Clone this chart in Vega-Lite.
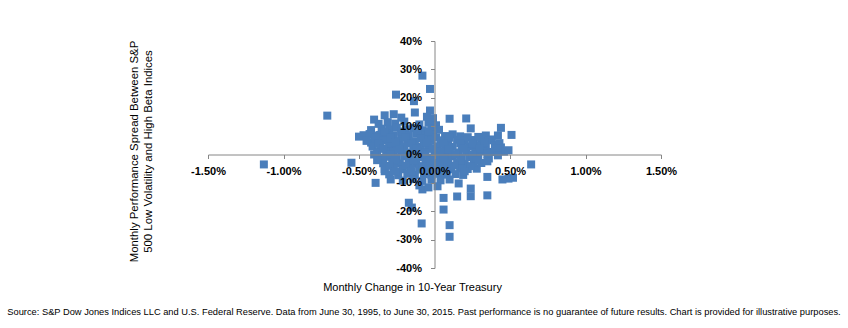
{
  "$schema": "https://vega.github.io/schema/vega-lite/v6.json",
  "width": 453,
  "height": 227,
  "autosize": {"type": "none"},
  "padding": {"left": 208, "top": 41, "right": 187, "bottom": 60},
  "background": "#ffffff",
  "title": {
    "text": "Source: S&P Dow Jones Indices LLC and U.S. Federal Reserve. Data from June 30, 1995, to June 30, 2015. Past performance is no guarantee of future results. Chart is provided for illustrative purposes.",
    "orient": "bottom",
    "anchor": "middle",
    "frame": "group",
    "font": "Liberation Sans",
    "fontSize": 9.3,
    "fontWeight": "normal",
    "color": "#000000",
    "offset": 16,
    "dx": -10.5
  },
  "data": {
    "values": [
      {"x": -1.13, "y": -3.5}, {"x": -0.71, "y": 13.7}, {"x": -0.55, "y": -2.9}, {"x": -0.08, "y": 27.8},
      {"x": -0.03, "y": 23.1}, {"x": -0.255, "y": 21.1}, {"x": -0.136, "y": 18.8}, {"x": -0.40, "y": 12.3},
      {"x": -0.13, "y": 14.8}, {"x": -0.03, "y": 15.5}, {"x": 0.10, "y": 12.6}, {"x": 0.21, "y": 12.7},
      {"x": 0.24, "y": 9.2}, {"x": 0.34, "y": 6.7}, {"x": 0.44, "y": 9.4}, {"x": 0.42, "y": 6.7},
      {"x": 0.51, "y": 6.9}, {"x": 0.44, "y": 2.5}, {"x": 0.34, "y": 3.0}, {"x": 0.36, "y": -1.4},
      {"x": 0.64, "y": -3.5}, {"x": 0.35, "y": -2.4}, {"x": 0.35, "y": -7.9}, {"x": 0.49, "y": -8.5},
      {"x": 0.52, "y": -8.2}, {"x": 0.45, "y": -8.8}, {"x": 0.28, "y": -5.0}, {"x": 0.16, "y": -10.2},
      {"x": 0.24, "y": -12.0}, {"x": 0.24, "y": -14.7}, {"x": 0.15, "y": -14.8}, {"x": 0.06, "y": -15.3},
      {"x": 0.35, "y": -14.4}, {"x": 0.06, "y": -19.4}, {"x": 0.10, "y": -24.9}, {"x": 0.10, "y": -29.0},
      {"x": -0.39, "y": -10.0}, {"x": -0.33, "y": -5.9}, {"x": -0.08, "y": -12.3}, {"x": -0.04, "y": -11.6},
      {"x": -0.17, "y": -17.0}, {"x": -0.15, "y": -18.7}, {"x": -0.085, "y": -24.3}, {"x": -0.50, "y": 6.3},
      {"x": -0.39, "y": 6.7}, {"x": -0.42, "y": 4.2},
      {"x": -0.33, "y": 13.8}, {"x": -0.27, "y": 14.2}, {"x": -0.22, "y": 13.0}, {"x": -0.05, "y": 13.3}, {"x": -0.01, "y": 12.8},
      {"x": -0.37, "y": 10.8}, {"x": -0.31, "y": 11.4}, {"x": -0.26, "y": 10.9}, {"x": -0.20, "y": 11.6}, {"x": -0.10, "y": 10.6}, {"x": -0.04, "y": 11.2}, {"x": 0.01, "y": 10.3},
      {"x": -0.42, "y": 8.6}, {"x": -0.35, "y": 9.1}, {"x": -0.30, "y": 8.8}, {"x": -0.25, "y": 9.4}, {"x": -0.19, "y": 8.9}, {"x": -0.14, "y": 9.3}, {"x": -0.08, "y": 8.5}, {"x": -0.02, "y": 9.0}, {"x": 0.03, "y": 8.7},
      {"x": -0.47, "y": 6.8}, {"x": -0.43, "y": 7.2}, {"x": -0.36, "y": 6.9}, {"x": -0.32, "y": 7.4}, {"x": -0.27, "y": 6.6}, {"x": -0.22, "y": 7.1}, {"x": -0.17, "y": 6.8}, {"x": -0.12, "y": 7.3}, {"x": -0.06, "y": 6.7}, {"x": -0.01, "y": 7.0}, {"x": 0.07, "y": 6.5}, {"x": 0.12, "y": 7.1}, {"x": 0.17, "y": 6.4}, {"x": 0.38, "y": 5.3},
      {"x": -0.45, "y": 4.8}, {"x": -0.40, "y": 5.2}, {"x": -0.34, "y": 4.9}, {"x": -0.29, "y": 5.3}, {"x": -0.23, "y": 4.7}, {"x": -0.18, "y": 5.1}, {"x": -0.13, "y": 4.6}, {"x": -0.07, "y": 5.2}, {"x": -0.02, "y": 4.8}, {"x": 0.04, "y": 5.0}, {"x": 0.09, "y": 4.6}, {"x": 0.15, "y": 5.2}, {"x": 0.20, "y": 4.9}, {"x": 0.26, "y": 5.1}, {"x": 0.31, "y": 4.7}, {"x": 0.36, "y": 5.0},
      {"x": -0.41, "y": 2.8}, {"x": -0.36, "y": 3.2}, {"x": -0.30, "y": 2.9}, {"x": -0.25, "y": 3.3}, {"x": -0.20, "y": 2.7}, {"x": -0.14, "y": 3.1}, {"x": -0.09, "y": 2.8}, {"x": -0.04, "y": 3.2}, {"x": 0.02, "y": 2.9}, {"x": 0.07, "y": 3.3}, {"x": 0.12, "y": 2.7}, {"x": 0.18, "y": 3.1}, {"x": 0.23, "y": 2.8}, {"x": 0.28, "y": 3.2}, {"x": 0.40, "y": 3.3},
      {"x": -0.38, "y": 0.8}, {"x": -0.32, "y": 1.2}, {"x": -0.27, "y": 0.9}, {"x": -0.22, "y": 1.3}, {"x": -0.16, "y": 0.7}, {"x": -0.11, "y": 1.1}, {"x": -0.06, "y": 0.8}, {"x": 0.00, "y": 1.2}, {"x": 0.05, "y": 0.9}, {"x": 0.10, "y": 1.3}, {"x": 0.16, "y": 0.7}, {"x": 0.21, "y": 1.1}, {"x": 0.27, "y": 0.8}, {"x": 0.32, "y": 1.2}, {"x": 0.38, "y": 0.9}, {"x": 0.46, "y": 1.0},
      {"x": -0.36, "y": -1.2}, {"x": -0.31, "y": -0.8}, {"x": -0.25, "y": -1.1}, {"x": -0.20, "y": -0.7}, {"x": -0.15, "y": -1.3}, {"x": -0.09, "y": -0.9}, {"x": -0.04, "y": -1.2}, {"x": 0.01, "y": -0.8}, {"x": 0.07, "y": -1.1}, {"x": 0.12, "y": -0.7}, {"x": 0.18, "y": -1.2}, {"x": 0.23, "y": -0.9}, {"x": 0.29, "y": -1.1},
      {"x": -0.34, "y": -3.1}, {"x": -0.28, "y": -2.8}, {"x": -0.23, "y": -3.2}, {"x": -0.17, "y": -2.9}, {"x": -0.12, "y": -3.3}, {"x": -0.06, "y": -2.7}, {"x": -0.01, "y": -3.1}, {"x": 0.04, "y": -2.8}, {"x": 0.09, "y": -3.2}, {"x": 0.15, "y": -2.9}, {"x": 0.20, "y": -3.3}, {"x": 0.26, "y": -2.7}, {"x": 0.31, "y": -3.0},
      {"x": -0.33, "y": -5.1}, {"x": -0.27, "y": -4.8}, {"x": -0.21, "y": -5.2}, {"x": -0.16, "y": -4.9}, {"x": -0.10, "y": -5.3}, {"x": -0.05, "y": -4.7}, {"x": 0.01, "y": -5.1}, {"x": 0.06, "y": -4.8}, {"x": 0.11, "y": -5.2}, {"x": 0.17, "y": -4.9}, {"x": 0.22, "y": -5.1},
      {"x": -0.30, "y": -7.0}, {"x": -0.24, "y": -7.3}, {"x": -0.18, "y": -6.8}, {"x": -0.13, "y": -7.2}, {"x": -0.07, "y": -6.9}, {"x": -0.02, "y": -7.3}, {"x": 0.03, "y": -6.8}, {"x": 0.08, "y": -7.1}, {"x": 0.14, "y": -6.9}, {"x": 0.19, "y": -7.2},
      {"x": -0.29, "y": -8.8}, {"x": -0.21, "y": -9.2}, {"x": -0.14, "y": -8.7}, {"x": -0.08, "y": -9.3}, {"x": -0.02, "y": -8.9}, {"x": 0.04, "y": -9.1}, {"x": 0.10, "y": -8.8},
      {"x": -0.10, "y": -10.9}, {"x": 0.02, "y": -11.2},
      {"x": -0.33, "y": 8.0}, {"x": -0.22, "y": 8.1}, {"x": -0.11, "y": 7.9}, {"x": -0.04, "y": 8.2},
      {"x": -0.39, "y": 6.0}, {"x": -0.29, "y": 5.9}, {"x": -0.19, "y": 6.1}, {"x": -0.09, "y": 5.8}, {"x": 0.01, "y": 6.0}, {"x": 0.10, "y": 5.9}, {"x": 0.22, "y": 6.1}, {"x": 0.29, "y": 6.2},
      {"x": -0.37, "y": 4.0}, {"x": -0.26, "y": 4.1}, {"x": -0.15, "y": 3.9}, {"x": -0.05, "y": 4.1}, {"x": 0.06, "y": 3.9}, {"x": 0.17, "y": 4.0}, {"x": 0.25, "y": 3.9}, {"x": 0.33, "y": 4.1}, {"x": 0.43, "y": 4.0},
      {"x": -0.34, "y": 2.0}, {"x": -0.23, "y": 1.9}, {"x": -0.12, "y": 2.1}, {"x": -0.01, "y": 2.0}, {"x": 0.09, "y": 1.9}, {"x": 0.19, "y": 2.1}, {"x": 0.30, "y": 2.0}, {"x": 0.42, "y": 2.1}, {"x": 0.49, "y": 1.5},
      {"x": -0.40, "y": 0.0}, {"x": -0.29, "y": -0.1}, {"x": -0.18, "y": 0.1}, {"x": -0.08, "y": -0.1}, {"x": 0.03, "y": 0.0}, {"x": 0.14, "y": 0.1}, {"x": 0.25, "y": -0.1}, {"x": 0.35, "y": 0.2}, {"x": 0.42, "y": -0.3},
      {"x": -0.38, "y": -2.0}, {"x": -0.26, "y": -1.9}, {"x": -0.14, "y": -2.1}, {"x": -0.03, "y": -2.0}, {"x": 0.06, "y": -1.9}, {"x": 0.17, "y": -2.1}, {"x": 0.28, "y": -2.0},
      {"x": -0.30, "y": -4.0}, {"x": -0.19, "y": -3.9}, {"x": -0.08, "y": -4.1}, {"x": 0.03, "y": -4.0}, {"x": 0.13, "y": -3.9}, {"x": 0.24, "y": -4.1},
      {"x": -0.26, "y": -6.0}, {"x": -0.15, "y": -5.9}, {"x": -0.04, "y": -6.1}, {"x": 0.08, "y": -6.0}, {"x": 0.20, "y": -5.9}
    ]
  },
  "mark": {"type": "point", "shape": "square", "filled": true, "size": 64, "color": "#4a7ebb", "opacity": 1, "strokeWidth": 0},
  "encoding": {
    "x": {
      "field": "x", "type": "quantitative",
      "scale": {"domain": [-1.5, 1.5], "nice": false, "zero": false},
      "axis": {
        "zindex": 1,
        "offset": -113.5,
        "values": [-1.5, -1, -0.5, 0, 0.5, 1, 1.5],
        "labelExpr": "(datum.value < 0 ? '-' : '') + format(abs(datum.value), '.2f') + '%'",
        "grid": false,
        "domainColor": "#868686",
        "tickColor": "#868686",
        "tickSize": 4,
        "labelPadding": 7,
        "labelFont": "Liberation Sans",
        "labelFontSize": 11,
        "labelFontWeight": "bold",
        "labelColor": "#000000",
        "labelFlush": false,
        "title": "Monthly Change in 10-Year Treasury",
        "titleFont": "Liberation Sans",
        "titleFontSize": 11,
        "titleFontWeight": "normal",
        "titleColor": "#000000",
        "titleX": 204,
        "titleY": 132.5,
        "titleAlign": "center",
        "titleBaseline": "middle"
      }
    },
    "y": {
      "field": "y", "type": "quantitative",
      "scale": {"domain": [-40, 40], "nice": false, "zero": false},
      "axis": {
        "zindex": 1,
        "offset": -226.5,
        "values": [-40, -30, -20, -10, 0, 10, 20, 30, 40],
        "labelExpr": "(datum.value < 0 ? '-' : '') + format(abs(datum.value), '.0f') + '%'",
        "grid": false,
        "domainColor": "#868686",
        "tickColor": "#868686",
        "tickSize": 4,
        "labelPadding": 9,
        "labelFont": "Liberation Sans",
        "labelFontSize": 11,
        "labelFontWeight": "bold",
        "labelColor": "#000000",
        "labelFlush": false,
        "title": ["Monthly Performance  Spread Between S&P", "500 Low Volatility  and High Beta Indices"],
        "titleFont": "Liberation Sans",
        "titleFontSize": 11.4,
        "titleFontWeight": "normal",
        "titleColor": "#000000",
        "titleX": -300.5,
        "titleY": 110,
        "titleAngle": 270,
        "titleAlign": "center",
        "titleBaseline": "middle",
        "titleLineHeight": 14
      }
    }
  },
  "config": {"view": {"stroke": null}}
}
